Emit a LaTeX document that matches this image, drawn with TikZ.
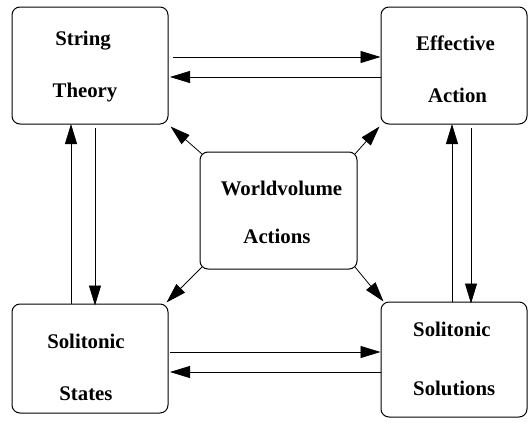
\documentclass[tikz,border=0pt]{standalone}
\usepackage{fontspec}
\setmainfont{Liberation Serif}
\usetikzlibrary{arrows.meta,calc}
\begin{document}
\begin{tikzpicture}[x=1pt,y=-1pt,
  box/.style={draw,line width=1pt,rounded corners=8pt,inner sep=0pt},
  lbl/.style={font=\fontsize{20.8}{24}\selectfont\bfseries,anchor=base,inner sep=0pt},
  arr/.style={line width=0.8pt,-{Triangle[length=20pt,width=12pt]}}]
\useasboundingbox (0,0) rectangle (530,423);
% boxes
\node[box,minimum width=156pt,minimum height=117pt] (st) at (90,65.5) {};
\node[box,minimum width=146pt,minimum height=117pt] (ea) at (454,65.5) {};
\node[box,minimum width=156pt,minimum height=109pt] (ss) at (90,358.5) {};
\node[box,minimum width=146pt,minimum height=115pt] (so) at (454,359.5) {};
\node[box,minimum width=157pt,minimum height=117pt] (wv) at (278.5,210.5) {};
% labels
\node[lbl] (st1) at (83,45.5) {String};
\node[lbl] (st2) at (85,97) {Theory};
\node[lbl] (ea1) at (455.5,50) {Effective};
\node[lbl] (ea2) at (457.5,102) {Action};
\node[lbl] (ss1) at (86,348) {Solitonic};
\node[lbl] (ss2) at (86,400) {States};
\node[lbl,anchor=base west] (so1) at (413,336.5) {Solitonic};
\node[lbl,anchor=base west] (so2) at (413,395.5) {Solutions};
\node[lbl] (wv1) at (281.5,195.5) {Worldvolume};
\node[lbl] (wv2) at (277,243) {Actions};
% top horizontal pair
\coordinate (a1) at (173,57);
\draw[arr] (a1) -- (a1 -| ea.west);
\coordinate (b1) at (170,77);
\draw[arr] (ea.west |- b1) -- (b1);
% bottom horizontal pair
\coordinate (a2) at (170,352);
\draw[arr] (a2) -- (a2 -| so.west);
\coordinate (b2) at (170,372);
\draw[arr] (so.west |- b2) -- (b2);
% left vertical pair
\coordinate (c1) at (71,124);
\draw[arr] (c1 |- ss.north) -- (c1);
\coordinate (c2) at (95,128);
\draw[arr] (c2) -- ($(c2 |- ss.north)+(0,2)$);
% right vertical pair
\coordinate (c3) at (452,124);
\draw[arr] (c3 |- so.north) -- (c3);
\coordinate (c4) at (471,128);
\draw[arr] (c4) -- ($(c4 |- so.north)+(0,2)$);
% diagonals from worldvolume
\draw[arr] ($(wv.north west)+(2.5,2.5)$) -- ($(st.south east)+(2,2)$);
\draw[arr] ($(wv.north east)+(-2.5,2.5)$) -- ($(ea.south west)+(-1,2)$);
\draw[arr] ($(wv.south west)+(2.5,-2.5)$) -- ($(ss.north east)+(-2,-1)$);
\draw[arr] ($(wv.south east)+(-2.5,-2.5)$) -- ($(so.north west)+(3,0)$);
\end{tikzpicture}
\end{document}
